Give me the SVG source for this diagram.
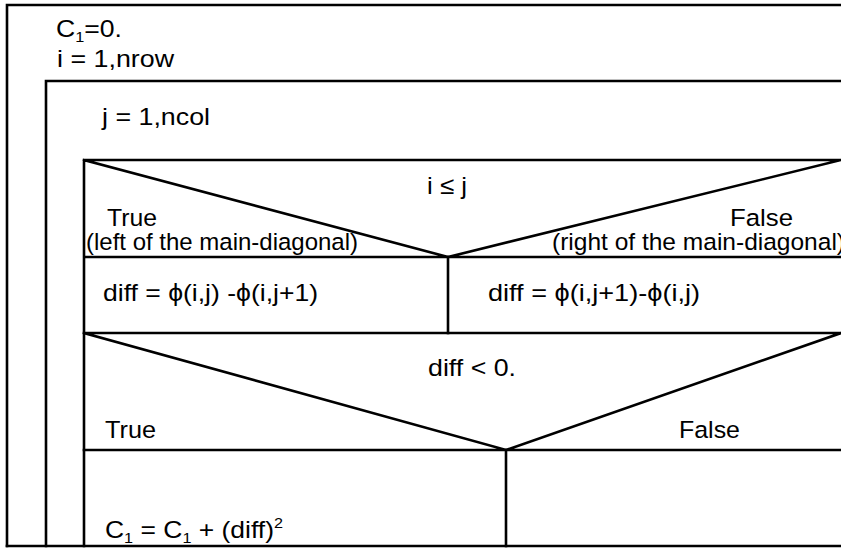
<svg xmlns="http://www.w3.org/2000/svg" width="841" height="548" viewBox="0 0 841 548">
<style>
.ln{fill:none;stroke:#000;stroke-width:2.6;stroke-linecap:square}
.tx{font-family:"Liberation Sans",Arial,sans-serif;font-size:24.5px;fill:#000}
.sub{font-size:15px}
</style>
<rect width="841" height="548" fill="#fff"/>
<g id="loop-i">
<path class="ln" d="M7,546 V5 H841"/>
<text class="tx" x="56" y="37" textLength="66" lengthAdjust="spacingAndGlyphs">C<tspan class="sub" dy="5">1</tspan><tspan dy="-5">=0.</tspan></text>
<text class="tx" x="57" y="67" textLength="117" lengthAdjust="spacingAndGlyphs">i = 1,nrow</text>
</g>
<g id="loop-j">
<path class="ln" d="M46,546 V81 H841"/>
<text class="tx" x="102" y="125" textLength="108" lengthAdjust="spacingAndGlyphs">j = 1,ncol</text>
</g>
<g id="decision-1">
<path class="ln" d="M84,546 V160 H841 M84,160 L448,257 L841,160 M84,257 H841"/>
<text class="tx" x="427" y="194" textLength="40" lengthAdjust="spacingAndGlyphs">i ≤ j</text>
<text class="tx" x="107" y="226" textLength="50" lengthAdjust="spacingAndGlyphs">True</text>
<text class="tx" x="86" y="250" textLength="272" lengthAdjust="spacingAndGlyphs">(left of the main-diagonal)</text>
<text class="tx" x="730" y="226" textLength="63" lengthAdjust="spacingAndGlyphs">False</text>
<text class="tx" x="552" y="250" textLength="293" lengthAdjust="spacingAndGlyphs">(right of the main-diagonal)</text>
</g>
<g id="process-left-1">
<path class="ln" d="M448,257 V333"/>
<text class="tx" x="103" y="301" textLength="215" lengthAdjust="spacingAndGlyphs">diff = ϕ(i,j) -ϕ(i,j+1)</text>
</g>
<g id="process-right-1">
<text class="tx" x="488" y="301" textLength="212" lengthAdjust="spacingAndGlyphs">diff = ϕ(i,j+1)-ϕ(i,j)</text>
</g>
<g id="decision-2">
<path class="ln" d="M84,333 H841 M84,333 L506,450 L841,333 M84,450 H841"/>
<text class="tx" x="428" y="376" textLength="88" lengthAdjust="spacingAndGlyphs">diff &lt; 0.</text>
<text class="tx" x="105" y="438" textLength="51" lengthAdjust="spacingAndGlyphs">True</text>
<text class="tx" x="679" y="438" textLength="61" lengthAdjust="spacingAndGlyphs">False</text>
</g>
<g id="process-left-2">
<path class="ln" d="M506,450 V546"/>
<text class="tx" x="105" y="538" textLength="178" lengthAdjust="spacingAndGlyphs">C<tspan class="sub" dy="5">1</tspan><tspan dy="-5"> = C</tspan><tspan class="sub" dy="5">1</tspan><tspan dy="-5"> + (diff)</tspan><tspan class="sub" dy="-10">2</tspan></text>
</g>
<g id="process-right-2"/>
<g id="connectors">
<path class="ln" d="M7,546 H841"/>
</g>
</svg>
